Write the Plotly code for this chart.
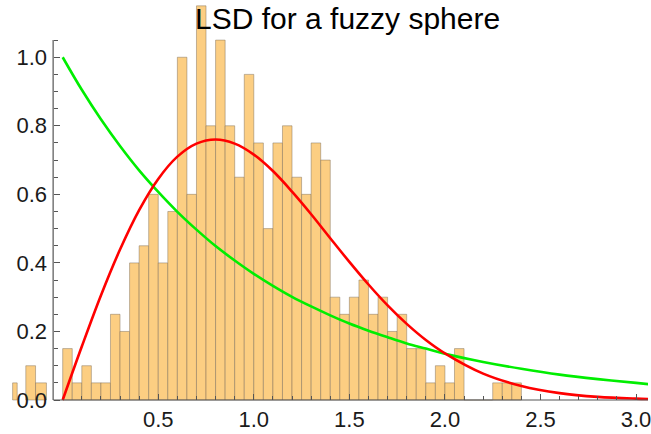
import numpy as np
import plotly.graph_objects as go

# Histogram of nearest-neighbour level spacings (bin width 0.05, density-normalised)
bin_width = 0.05
bin_start = 0.0
spacing_density = [
    0.15, 0.05, 0.10, 0.05, 0.05, 0.25, 0.20, 0.40, 0.45, 0.60,
    0.40, 0.55, 1.00, 0.60, 1.15, 0.80, 1.05, 0.80, 0.65, 0.95,
    0.75, 0.50, 0.75, 0.80, 0.65, 0.60, 0.75, 0.70, 0.30, 0.25,
    0.30, 0.35, 0.25, 0.30, 0.20, 0.25, 0.15, 0.15, 0.05, 0.10,
    0.05, 0.15, 0.00, 0.00, 0.00, 0.05, 0.05, 0.05,
]

# Stray bars left of the vertical axis (left edge, right edge, height)
stray_left = [-0.262, -0.193, -0.142]
stray_right = [-0.238, -0.142, -0.085]
stray_height = [0.05, 0.10, 0.05]

# Reference curves sampled along s
s_vals = [0.0, 0.1, 0.2, 0.3, 0.4, 0.5, 0.6, 0.7, 0.8, 0.9, 1.0, 1.1, 1.2, 1.3,
          1.4, 1.5, 1.6, 1.7, 1.8, 1.9, 2.0, 2.2, 2.4, 2.6, 2.8, 3.0, 3.07]
wigner_goe = [0.0, 0.156, 0.305, 0.439, 0.554, 0.645, 0.710, 0.748, 0.760, 0.748,
              0.716, 0.668, 0.608, 0.542, 0.472, 0.403, 0.337, 0.276, 0.222, 0.175,
              0.136, 0.077, 0.041, 0.020, 0.009, 0.004, 0.003]
poisson = [1.0, 0.905, 0.819, 0.741, 0.670, 0.607, 0.549, 0.497, 0.449, 0.407,
           0.368, 0.333, 0.301, 0.273, 0.247, 0.223, 0.202, 0.183, 0.165, 0.150,
           0.135, 0.111, 0.091, 0.074, 0.061, 0.050, 0.046]

x_major = [0.5, 1.0, 1.5, 2.0, 2.5, 3.0]
y_major = [0.0, 0.2, 0.4, 0.6, 0.8, 1.0]

# Layout constants
W, H = 651, 434
x_range = [-0.328, 3.0625]
y_range = [-0.0992, 1.167]
axis_x0 = -0.05       # where the vertical axis crosses
y_axis_top = 1.05

bar_fill = "rgb(252,206,130)"
bar_edge = "rgba(120,105,85,0.45)"

fig = go.Figure()

centers = [bin_start + (i + 0.5) * bin_width for i in range(len(spacing_density))]
fig.add_trace(go.Bar(
    x=centers, y=spacing_density, width=bin_width,
    marker=dict(color=bar_fill, line=dict(color=bar_edge, width=1)),
    hoverinfo="skip", showlegend=False,
))
fig.add_trace(go.Bar(
    x=[(a + b) / 2 for a, b in zip(stray_left, stray_right)],
    y=stray_height,
    width=[b - a for a, b in zip(stray_left, stray_right)],
    marker=dict(color=bar_fill, line=dict(color=bar_edge, width=1)),
    hoverinfo="skip", showlegend=False,
))
fig.add_trace(go.Scatter(
    x=s_vals, y=poisson, mode="lines",
    line=dict(color="#00ee00", width=2.6, shape="spline"),
    hoverinfo="skip", showlegend=False,
))
fig.add_trace(go.Scatter(
    x=s_vals, y=wigner_goe, mode="lines",
    line=dict(color="#ff0000", width=2.6, shape="spline"),
    hoverinfo="skip", showlegend=False,
))

axis_color = "#555555"
tick_font = dict(family="Liberation Sans, Arial, sans-serif", size=22, color="#1a1a1a")

x_minor = [round(0.1 * k, 1) for k in range(1, 31) if k % 5 != 0]
y_minor = [round(0.05 * k, 2) for k in range(0, 22) if k % 4 != 0]

fig.update_layout(
    width=W, height=H,
    margin=dict(l=0, r=0, t=0, b=0),
    paper_bgcolor="white", plot_bgcolor="white",
    barmode="overlay",
    xaxis=dict(
        range=x_range, domain=[0, 1], anchor="free", position=1 - 400 / H,
        showgrid=False, zeroline=False, showline=False,
        tickmode="array", tickvals=x_major, ticktext=[f"{v:.1f}" for v in x_major],
        ticks="inside", ticklen=6, tickwidth=1, tickcolor=axis_color,
        tickfont=tick_font, ticklabelstandoff=4, ticklabeloverflow="allow",
        minor=dict(tickmode="array", tickvals=x_minor, ticks="inside",
                   ticklen=4, tickwidth=1, tickcolor=axis_color, showgrid=False),
    ),
    yaxis=dict(
        range=y_range, domain=[0, 1], anchor="free", position=53.3 / W,
        showgrid=False, zeroline=False, showline=False,
        tickmode="array", tickvals=y_major, ticktext=[f"{v:.1f}" for v in y_major],
        ticks="inside", ticklen=6, tickwidth=1, tickcolor=axis_color,
        tickfont=tick_font, ticklabelstandoff=6, ticklabeloverflow="allow",
        minor=dict(tickmode="array", tickvals=y_minor, ticks="inside",
                   ticklen=4, tickwidth=1, tickcolor=axis_color, showgrid=False),
    ),
    shapes=[
        dict(type="line", xref="x", yref="y", x0=axis_x0, x1=x_range[1], y0=0, y1=0,
             line=dict(color=axis_color, width=1.2), layer="above"),
        dict(type="line", xref="x", yref="y", x0=axis_x0, x1=axis_x0, y0=0, y1=y_axis_top,
             line=dict(color=axis_color, width=1.2), layer="above"),
    ],
    annotations=[
        dict(text="LSD for a fuzzy sphere", xref="paper", yref="paper",
             x=349 / W, y=1, xanchor="center", yanchor="top", showarrow=False,
             font=dict(family="Liberation Sans, Arial, sans-serif", size=30, color="black")),
    ],
)

fig.write_html("out.html")
